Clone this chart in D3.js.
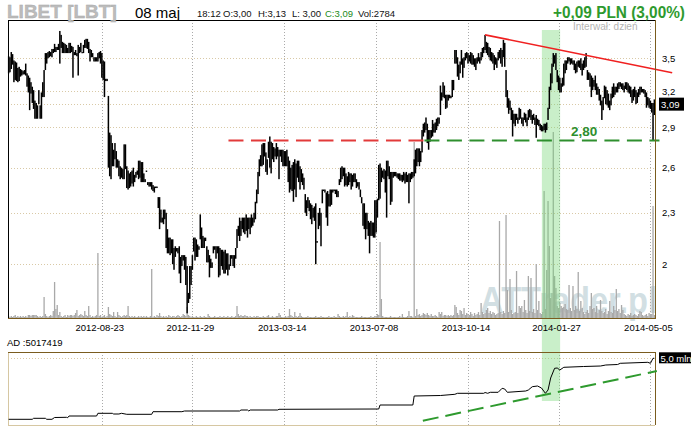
<!DOCTYPE html>
<html><head><meta charset="utf-8">
<script src="https://cdn.jsdelivr.net/npm/d3@7"></script>
<style>body{margin:0;background:#fff}svg{display:block}text{font-family:"Liberation Sans",Arial,sans-serif}</style>
</head><body><svg id="c" width="700" height="431"></svg>
<script>
// ---- data ----
const highs=[
3.52,3.51,3.56,3.54,3.48,3.47,3.46,3.41,3.42,3.40,
3.39,3.38,3.39,3.45,3.36,3.34,3.32,3.28,3.24,3.21,
3.12,3.10,3.08,3.21,3.08,3.19,3.28,3.39,3.55,3.55,
3.56,3.57,3.56,3.59,3.59,3.64,3.61,3.61,3.64,3.77,
3.73,3.66,3.65,3.64,3.63,3.60,3.65,3.65,3.62,3.61,
3.56,3.58,3.55,3.63,3.61,3.65,3.56,3.63,3.68,3.69,
3.69,3.66,3.59,3.58,3.55,3.51,3.51,3.51,3.55,3.56,
3.57,3.55,3.48,3.47,3.31,3.31,3.16,2.86,2.84,2.78,
2.73,2.78,2.72,2.66,2.65,2.61,2.60,2.59,2.77,2.77,
2.61,2.58,2.56,2.57,2.58,2.60,2.55,2.57,2.58,2.65,
2.65,2.64,2.64,2.56,2.52,2.58,2.50,2.50,2.50,2.50,
2.48,2.47,2.47,2.47,2.40,2.40,2.32,2.27,2.32,2.32,
2.30,2.20,2.15,2.15,2.14,2.14,2.09,2.10,2.09,2.09,
2.10,2.04,2.05,2.05,2.05,2.04,1.99,1.85,1.99,1.99,
2.05,2.15,2.15,2.14,2.11,2.10,2.29,2.21,2.16,2.15,
2.15,2.10,2.08,2.05,2.03,2.01,2.10,2.10,2.10,2.10,
2.10,2.09,2.08,2.08,2.07,2.08,2.06,2.06,2.00,2.05,
2.05,2.05,2.05,2.09,2.20,2.22,2.27,2.25,2.27,2.27,
2.27,2.29,2.27,2.27,2.27,2.29,2.27,2.30,2.37,2.45,
2.57,2.66,2.69,2.77,2.78,2.78,2.71,2.66,2.79,2.83,
2.79,2.78,2.75,2.74,2.78,2.75,2.73,2.73,2.73,2.73,
2.72,2.72,2.73,2.68,2.65,2.60,2.62,2.64,2.66,2.63,
2.65,2.65,2.61,2.59,2.56,2.53,2.42,2.38,2.40,2.38,
2.36,2.35,2.33,2.34,2.36,2.13,2.30,2.33,2.30,2.45,
2.45,2.45,2.43,2.44,2.42,2.45,2.45,2.45,2.45,2.45,
2.45,2.44,2.52,2.60,2.61,2.60,2.60,2.56,2.54,2.57,
2.56,2.56,2.55,2.56,2.56,2.52,2.50,2.50,2.45,2.40,
2.36,2.36,2.30,2.30,2.25,2.24,2.25,2.24,2.24,2.38,
2.38,2.39,2.62,2.63,2.60,2.58,2.59,2.58,2.65,2.65,
2.61,2.57,2.57,2.57,2.57,2.57,2.56,2.56,2.56,2.55,
2.55,2.57,2.56,2.57,2.55,2.56,2.56,2.57,2.57,2.66,
2.73,2.74,2.74,2.74,2.72,2.88,2.93,2.94,2.98,2.93,
2.88,2.88,2.88,2.96,2.93,2.94,2.97,2.98,2.98,3.25,
3.19,3.28,3.25,3.17,3.17,3.17,3.17,3.16,3.30,3.30,
3.58,3.58,3.51,3.44,3.47,3.58,3.50,3.51,3.55,3.56,
3.55,3.53,3.56,3.55,3.53,3.50,3.50,3.51,3.55,3.51,
3.56,3.60,3.61,3.73,3.66,3.65,3.61,3.60,3.56,3.55,
3.53,3.51,3.50,3.56,3.58,3.60,3.58,3.68,3.65,3.39,
3.21,3.14,3.12,3.06,3.04,3.01,3.01,3.01,2.98,3.06,
3.05,2.98,2.98,3.02,3.01,2.98,3.04,3.05,3.04,3.00,
3.01,2.98,3.00,2.97,2.96,2.93,2.92,2.91,2.93,2.93,
2.94,3.06,3.24,3.36,3.45,3.55,3.53,3.55,3.39,3.34,
3.32,3.27,3.32,3.45,3.48,3.48,3.51,3.51,3.50,3.50,
3.48,3.48,3.45,3.47,3.48,3.48,3.50,3.45,3.48,3.51,
3.55,3.39,3.37,3.36,3.34,3.32,3.30,3.34,3.27,3.24,
3.22,3.17,3.12,3.15,3.25,3.24,3.21,3.18,3.12,3.18,
3.24,3.27,3.24,3.24,3.27,3.28,3.28,3.27,3.27,3.25,
3.28,3.28,3.27,3.25,3.24,3.21,3.22,3.24,3.21,3.19,
3.22,3.24,3.24,3.22,3.22,3.21,3.19,3.15,3.14,3.12,
3.10,3.10,3.13];
const lows=[
3.36,3.37,3.40,3.44,3.28,3.30,3.29,3.28,3.29,3.33,
3.34,3.35,3.35,3.34,3.24,3.19,3.04,3.18,3.10,3.05,
2.97,2.97,2.97,3.09,2.97,2.97,3.15,3.15,3.39,3.45,
3.50,3.51,3.52,3.51,3.55,3.56,3.56,3.58,3.58,3.45,
3.60,3.55,3.55,3.55,3.55,3.55,3.55,3.55,3.56,3.32,
3.53,3.53,3.52,3.34,3.55,3.56,3.55,3.55,3.60,3.60,
3.59,3.55,3.47,3.51,3.51,3.47,3.47,3.47,3.47,3.50,
3.45,3.32,3.30,3.15,3.29,3.29,2.60,2.54,2.52,2.61,
2.61,2.66,2.60,2.60,2.54,2.52,2.53,2.52,2.52,2.59,
2.46,2.45,2.46,2.47,2.49,2.47,2.50,2.53,2.55,2.52,
2.53,2.50,2.50,2.50,2.50,2.57,2.48,2.47,2.47,2.45,
2.44,2.43,2.46,2.46,2.33,2.20,2.24,2.24,2.23,2.26,
2.09,2.06,2.06,2.05,2.06,2.00,1.97,2.04,2.07,2.06,
1.95,1.90,1.99,2.02,1.97,1.89,1.75,1.80,1.82,1.89,
1.97,2.07,2.02,2.04,2.04,2.08,2.14,2.09,2.09,2.09,
2.13,2.01,2.01,1.93,1.98,1.98,2.06,2.08,2.03,2.06,
1.93,1.94,1.99,1.97,1.95,1.95,1.97,1.94,1.97,1.99,
2.03,1.99,1.98,2.03,2.09,2.16,2.13,2.16,2.20,2.18,
2.17,2.19,2.15,2.20,2.17,2.21,2.22,2.24,2.26,2.36,
2.42,2.54,2.61,2.61,2.62,2.68,2.57,2.55,2.67,2.60,
2.56,2.66,2.64,2.68,2.66,2.68,2.52,2.68,2.64,2.61,
2.61,2.61,2.61,2.50,2.43,2.45,2.44,2.37,2.45,2.40,
2.53,2.50,2.45,2.50,2.48,2.45,2.30,2.28,2.33,2.31,
2.26,2.23,2.27,2.25,2.00,2.12,2.20,2.22,2.10,2.36,
2.44,2.43,2.27,2.22,2.34,2.34,2.35,2.43,2.44,2.42,
2.40,2.40,2.48,2.50,2.52,2.54,2.47,2.48,2.47,2.48,
2.50,2.45,2.47,2.50,2.50,2.46,2.47,2.45,2.40,2.36,
2.22,2.20,2.14,2.20,2.16,2.06,2.16,2.16,2.15,2.15,
2.18,2.27,2.38,2.39,2.50,2.53,2.52,2.43,2.27,2.54,
2.52,2.35,2.37,2.53,2.54,2.54,2.53,2.52,2.51,2.51,
2.50,2.51,2.49,2.50,2.50,2.36,2.50,2.52,2.53,2.54,
2.56,2.61,2.64,2.61,2.64,2.71,2.83,2.86,2.88,2.78,
2.73,2.79,2.82,2.83,2.86,2.86,2.88,2.91,2.93,3.00,
3.12,3.15,3.14,3.05,3.06,3.12,3.14,3.14,3.15,3.21,
3.45,3.45,3.33,3.30,3.36,3.44,3.32,3.41,3.48,3.50,
3.45,3.47,3.45,3.44,3.44,3.42,3.39,3.45,3.47,3.45,
3.48,3.51,3.55,3.58,3.55,3.53,3.51,3.48,3.47,3.45,
3.39,3.44,3.41,3.48,3.50,3.45,3.42,3.51,3.42,3.15,
3.06,3.01,3.04,2.96,2.83,2.93,2.91,2.96,2.93,2.96,
2.97,2.93,2.91,2.96,2.94,2.91,2.96,2.98,2.96,2.93,
2.96,2.92,2.82,2.92,2.91,2.88,2.87,2.87,2.88,2.86,
2.88,2.96,3.05,3.21,3.27,3.42,3.45,3.39,3.28,3.21,
3.19,3.19,3.24,3.25,3.36,3.39,3.45,3.47,3.44,3.45,
3.44,3.39,3.36,3.37,3.42,3.41,3.39,3.34,3.39,3.41,
3.42,3.30,3.30,3.24,3.15,3.21,3.24,3.21,3.17,3.17,
3.12,3.08,2.96,3.04,3.14,3.09,3.08,3.06,3.04,3.08,
3.14,3.15,3.17,3.19,3.19,3.22,3.24,3.22,3.21,3.19,
3.22,3.21,3.19,3.18,3.15,3.10,3.12,3.15,3.09,3.10,
3.15,3.17,3.19,3.19,3.18,3.15,3.06,3.08,3.06,3.05,
3.02,2.80,3.00];
// volume in thousands of shares
const volumes=[
2,1,2,1,2,3,1,2,1,2, 1,2,1,2,1,3,3,2,3,3, 3,3,2,1,2,1,2,21,4,2,
1,2,3,2,7,36,9,13,3,6, 2,1,2,3,1,3,2,3,3,2, 3,5,8,2,3,4,3,2,7,3,
2,12,3,1,2,1,2,3,65,2, 3,1,2,3,1,2,11,4,3,2, 6,2,1,6,3,2,1,2,3,2,
3,12,2,1,2,1,2,1,1,2, 1,2,1,2,1,2,1,1,2,49, 1,2,1,3,2,5,2,1,2,1,
2,1,3,2,1,2,2,1,2,3, 2,1,2,4,3,2,11,3,2,1, 2,1,1,2,1,1,2,1,1,2,
1,1,4,2,1,1,1,2,1,1, 1,2,1,1,2,1,1,2,1,1, 2,1,1,2,12,4,2,3,2,2,
3,2,2,1,2,1,1,2,1,2, 2,1,1,1,2,1,1,2,3,1, 1,2,1,1,2,2,5,3,1,1,
1,2,1,2,9,3,2,1,6,2, 1,2,5,2,1,1,1,1,2,1, 1,1,1,1,2,1,1,1,2,1,
1,1,1,1,2,1,1,1,2,1, 1,4,2,1,1,2,1,2,6,1, 2,1,3,2,1,1,1,1,1,2,
1,1,1,1,1,1,2,1,1,2, 2,4,3,76,19,2,1,1,1,1, 1,2,1,1,1,1,1,1,2,1,
4,1,1,1,2,7,2,2,1,176, 2,9,3,4,2,3,5,4,3,5, 3,2,4,2,2,3,2,1,6,4,
6,2,3,3,2,3,2,3,2,3, 13,11,5,3,8,7,4,10,3,5, 4,3,6,4,2,5,3,4,6,3,
15,6,4,5,8,10,5,7,4,6, 5,3,4,5,97,6,4,7,5,103, 28,6,39,8,4,5,6,47,5,12,
10,12,6,18,8,5,42,7,40,6, 9,5,54,8,17,5,4,6,127,9, 48,117,72,20,25,186,42,30,12,10,
15,12,10,11,14,9,8,33,10,7, 32,8,12,9,46,7,17,10,6,4, 6,8,5,12,25,9,10,6,12,5,
8,18,7,5,6,9,4,7,17,6, 5,12,8,29,7,9,5,13,8,4, 3,2,4,3,5,2,3,4,3,2,
4,7,6,3,2,3,4,2,5,3, 4,112,3];
const dateTickIdx=[71,140,210,280,350,419,489];
const dateTickLabels=["2012-08-23","2012-11-29","2013-03-14","2013-07-08","2013-10-14","2014-01-27","2014-05-05"];
const priceTicks=[3.5,3.2,2.9,2.6,2.3,2.0];
const priceTickLabels=["3,5","3,2","2,9","2,6","2,3","2"];
const lastPrice=3.09, lastPriceLabel="3,09";
// AD indicator (millions)
const adIdx=[0,18,19,28,29,33,35,44,45,46,67,68,79,80,84,86,90,109,110,132,134,176,177,182,183,184,205,206,282,283,308,309,329,340,342,362,363,365,367,373,376,378,380,394,396,399,403,406,409,411,413,416,418,420,423,438,451,455,464,466,487,489,491,492];
const adVal=[1.95,1.95,2.00,2.00,1.95,1.95,2.04,2.05,2.03,2.115,2.115,2.25,2.25,2.215,2.215,2.25,2.20,2.20,2.33,2.33,2.365,2.365,2.415,2.415,2.365,2.415,2.415,2.45,2.465,2.665,2.665,3.115,3.14,3.20,3.25,3.25,3.29,3.25,3.30,3.30,3.50,3.465,3.30,3.365,3.415,3.58,3.615,3.515,3.25,3.415,4.015,4.50,4.515,4.415,4.55,4.59,4.615,4.665,4.69,4.75,4.80,4.75,5.00,5.00];
const adTickVal=[5.0], adTickLabels=["5,0 mln"];
const adHeader="AD :5017419";
// annotations
const supportLevel=2.80, supportLabel="2,80";
const supportRedIdx=[168,317.3], supportGreenIdx=[317.3,496.4];
const resistIdx=[363,505.6], resistVal=[3.73,3.366];
const adTrendIdx=[315.6,493.9], adTrendVal=[1.88,4.365];
const highlightIdx=[406.8,420.7];

// ---- drawing ----
const svg=d3.select("#c");
const N=highs.length;
const L=8,R=655,T=20,B=318, AT=352, AB=425;
const x=d3.scaleLinear().domain([0,N]).range([L,R]);
const xc=i=>x(i+0.5);
const y=d3.scaleLog().domain([1.728,3.884]).range([B,T]);
const yv=d3.scaleLinear().domain([0,298]).range([B,T]);
const ya=d3.scaleLinear().domain([1.665,5.315]).range([AB,AT]);

// watermark
svg.append("text").attr("x",480).attr("y",313).attr("font-size",36).attr("font-weight","bold")
  .attr("textLength",177).attr("lengthAdjust","spacingAndGlyphs")
  .attr("fill","#d2dfe3").text("ATTrader.pl");

// grids
const g=svg.append("g");
g.selectAll(".hg").data(priceTicks.concat([lastPrice])).enter().append("line")
  .attr("x1",L).attr("x2",R).attr("y1",d=>Math.round(y(d))+0.5).attr("y2",d=>Math.round(y(d))+0.5)
  .attr("stroke","#d9c9a6").attr("stroke-dasharray","1,2");
g.selectAll(".vg").data(dateTickIdx).enter().append("line")
  .attr("x1",d=>Math.round(xc(d))+0.5).attr("x2",d=>Math.round(xc(d))+0.5).attr("y1",T).attr("y2",B)
  .attr("stroke","#aaaaaa").attr("stroke-dasharray","1,2");
g.selectAll(".vg2").data(dateTickIdx).enter().append("line")
  .attr("x1",d=>Math.round(xc(d))+0.5).attr("x2",d=>Math.round(xc(d))+0.5).attr("y1",AT).attr("y2",AB)
  .attr("stroke","#aaaaaa").attr("stroke-dasharray","1,2");
g.selectAll(".ag").data(adTickVal).enter().append("line")
  .attr("x1",L).attr("x2",R).attr("y1",d=>Math.round(ya(d))+0.5).attr("y2",d=>Math.round(ya(d))+0.5)
  .attr("stroke","#d9c9a6").attr("stroke-dasharray","1,2");

// volume
svg.append("g").selectAll("rect").data(volumes).enter().append("rect")
  .attr("x",(d,i)=>xc(i)-0.65).attr("width",1.3)
  .attr("y",d=>yv(d)).attr("height",d=>B-yv(d)).attr("fill","#a9a9a9");

// highlight band
svg.append("rect").attr("x",x(highlightIdx[0])).attr("width",x(highlightIdx[1])-x(highlightIdx[0]))
  .attr("y",30).attr("height",401-30).attr("fill","rgb(120,215,120)").attr("opacity",0.4);

// price bars
svg.append("g").selectAll("rect").data(highs).enter().append("rect")
  .attr("x",(d,i)=>xc(i)-0.75).attr("width",1.5)
  .attr("y",(d,i)=>y(d)).attr("height",(d,i)=>Math.max(1.2,y(lows[i])-y(d))).attr("fill","#000");

// support line
svg.append("line").attr("x1",x(supportRedIdx[0])).attr("x2",x(supportRedIdx[1]))
  .attr("y1",y(supportLevel)).attr("y2",y(supportLevel)).attr("stroke","#e23a3a").attr("stroke-width",2).attr("stroke-dasharray","15,7.5");
svg.append("line").attr("x1",x(supportGreenIdx[0])).attr("x2",x(supportGreenIdx[1]))
  .attr("y1",y(supportLevel)).attr("y2",y(supportLevel)).attr("stroke","#2e8f2e").attr("stroke-width",2).attr("stroke-dasharray","15,7.5");
svg.append("text").attr("x",571).attr("y",y(supportLevel)-4).attr("font-size",13.5).attr("font-weight","bold")
  .attr("fill","#2e8f2e").text(supportLabel);

// resistance line
svg.append("line").attr("x1",xc(resistIdx[0])).attr("x2",xc(resistIdx[1]))
  .attr("y1",y(resistVal[0])).attr("y2",y(resistVal[1])).attr("stroke","#f02020").attr("stroke-width",1.6);

// frame
svg.append("line").attr("x1",L).attr("x2",R).attr("y1",T+0.5).attr("y2",T+0.5).attr("stroke","#000");
svg.append("line").attr("x1",L+0.5).attr("x2",L+0.5).attr("y1",T).attr("y2",B).attr("stroke","#000");
svg.append("line").attr("x1",L).attr("x2",R+1).attr("y1",B+0.5).attr("y2",B+0.5).attr("stroke","#7a5c1e");
svg.append("line").attr("x1",R+0.5).attr("x2",R+0.5).attr("y1",T).attr("y2",B).attr("stroke","#7a5c1e");

// price axis labels
svg.append("g").selectAll("text").data(priceTicks).enter().append("text")
  .attr("x",662).attr("y",d=>y(d)+3.5).attr("font-size",9.5).attr("fill","#000")
  .text((d,i)=>priceTickLabels[i]);
svg.append("rect").attr("x",659).attr("y",y(lastPrice)-6.5).attr("width",25).attr("height",13).attr("fill","#000");
svg.append("text").attr("x",661).attr("y",y(lastPrice)+3.5).attr("font-size",9.5).attr("fill","#fff").text(lastPriceLabel);

// date labels
svg.append("g").selectAll("text").data(dateTickIdx).enter().append("text")
  .attr("x",d=>xc(d)-2).attr("y",330.5).attr("text-anchor","middle").attr("font-size",9.5).attr("fill","#000")
  .text((d,i)=>dateTickLabels[i]);

// AD panel
svg.append("text").attr("x",7).attr("y",345.5).attr("font-size",9.5).attr("fill","#000").text(adHeader);
svg.append("line").attr("x1",L).attr("x2",R).attr("y1",AB+0.5).attr("y2",AB+0.5).attr("stroke","#d6c7a2");
svg.append("line").attr("x1",L+0.5).attr("x2",L+0.5).attr("y1",AT).attr("y2",AB).attr("stroke","#d6c7a2");
svg.append("line").attr("x1",L).attr("x2",R+1).attr("y1",AT+0.5).attr("y2",AT+0.5).attr("stroke","#7a5c1e");
svg.append("line").attr("x1",R+0.5).attr("x2",R+0.5).attr("y1",AT).attr("y2",AB).attr("stroke","#7a5c1e");
const adPts=adIdx.map((d,i)=>[xc(d),ya(adVal[i])]);
svg.append("path").attr("d",d3.line()(adPts)).attr("fill","none").attr("stroke","#000").attr("stroke-width",1);
svg.append("line").attr("x1",xc(adTrendIdx[0])).attr("x2",xc(adTrendIdx[1]))
  .attr("y1",ya(adTrendVal[0])).attr("y2",ya(adTrendVal[1])).attr("stroke","#2e9a2e").attr("stroke-width",2).attr("stroke-dasharray","16,7");
svg.append("rect").attr("x",659).attr("y",ya(adTickVal[0])-6).attr("width",32).attr("height",11).attr("fill","#000");
svg.append("text").attr("x",660.5).attr("y",ya(adTickVal[0])+3.5).attr("font-size",9.5).attr("fill","#fff").text(adTickLabels[0]);

// header
svg.append("text").attr("x",7).attr("y",18).attr("font-size",19).attr("font-weight","bold").attr("fill","#bcbcbc")
  .attr("stroke","#a8a8a8").attr("stroke-width",0.4).text("LIBET [LBT]");
svg.append("text").attr("x",135).attr("y",18).attr("font-size",15).attr("fill","#000").text("08 maj");
const info=[["18:12",197,"#111"],["O:3,00",223,"#111"],["H:3,13",258,"#111"],["L: 3,00",292,"#111"],["C:3,09",325,"#1a8a1a"],["Vol:2784",358,"#111"]];
svg.append("g").selectAll("text").data(info).enter().append("text")
  .attr("x",d=>d[1]).attr("y",17).attr("font-size",9.5).attr("fill",d=>d[2]).text(d=>d[0]);
svg.append("text").attr("x",553).attr("y",17.5).attr("font-size",16).attr("font-weight","bold").attr("fill","#2e9a2e")
  .attr("textLength",132).attr("lengthAdjust","spacingAndGlyphs").text("+0,09 PLN (3,00%)");
svg.append("text").attr("x",573).attr("y",30).attr("font-size",10).attr("fill","#b4b4b4").text("Interwał: dzień");
</script></body></html>
